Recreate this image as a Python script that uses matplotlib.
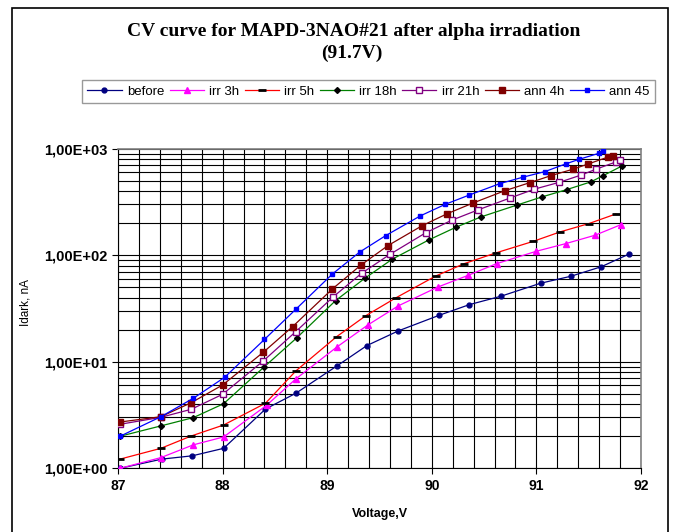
import numpy as np
import matplotlib
matplotlib.use('Agg')
import matplotlib.pyplot as plt
from matplotlib.ticker import FixedLocator, FuncFormatter, LogLocator, NullFormatter
from matplotlib.patches import Rectangle

# 1. data
v_before = [87.02, 87.42, 87.71, 88.01, 88.41, 88.70, 89.09, 89.38, 89.68, 90.07, 90.36, 90.66, 91.04, 91.33, 91.62, 91.89]
i_before = [1.0, 1.22, 1.31, 1.54, 3.6, 5.06, 9.1, 14.2, 19.5, 27.3, 34.4, 41.2, 54.6, 63.5, 78.0, 103.0]

v_irr3 = [87.02, 87.41, 87.72, 88.01, 88.42, 88.70, 89.09, 89.39, 89.68, 90.06, 90.35, 90.62, 91.00, 91.28, 91.56, 91.81]
i_irr3 = [1.0, 1.26, 1.66, 1.97, 3.9, 6.9, 13.7, 22.2, 33.5, 50.4, 64.9, 83.4, 109.0, 128.5, 154.0, 194.0]

v_irr5 = [87.02, 87.41, 87.70, 88.01, 88.41, 88.70, 89.09, 89.37, 89.66, 90.04, 90.31, 90.61, 90.97, 91.23, 91.50, 91.76]
i_irr5 = [1.22, 1.54, 2.01, 2.55, 4.08, 8.2, 17.2, 27.1, 40.0, 64.0, 83.4, 105.0, 135.0, 166.0, 198.0, 244.0]

v_irr18 = [87.02, 87.41, 87.72, 88.01, 88.40, 88.71, 89.08, 89.36, 89.62, 89.97, 90.23, 90.47, 90.81, 91.05, 91.29, 91.52, 91.64, 91.82]
i_irr18 = [2.0, 2.5, 2.99, 4.04, 9.0, 16.8, 37.5, 60.8, 91.6, 139.0, 183.0, 229.0, 295.0, 352.0, 413.0, 488.0, 560.0, 690.0]

v_irr21 = [87.02, 87.41, 87.70, 88.00, 88.39, 88.70, 89.06, 89.33, 89.60, 89.94, 90.19, 90.44, 90.75, 90.98, 91.22, 91.43, 91.57, 91.76, 91.80]
i_irr21 = [2.59, 3.01, 3.58, 4.95, 10.2, 19.2, 40.9, 67.8, 102.0, 162.0, 213.0, 266.0, 345.0, 417.0, 484.0, 567.0, 642.0, 751.0, 785.0]

v_ann4 = [87.02, 87.41, 87.70, 88.00, 88.39, 88.67, 89.05, 89.32, 89.58, 89.91, 90.15, 90.39, 90.70, 90.94, 91.14, 91.35, 91.49, 91.68, 91.73]
i_ann4 = [2.72, 3.05, 4.13, 6.05, 12.3, 21.4, 48.3, 80.5, 123.0, 190.0, 246.0, 308.0, 404.0, 481.0, 559.0, 642.0, 716.0, 832.0, 861.0]

v_ann45 = [87.02, 87.41, 87.72, 88.02, 88.40, 88.70, 89.05, 89.31, 89.56, 89.89, 90.13, 90.36, 90.65, 90.87, 91.08, 91.28, 91.41, 91.60, 91.64]
i_ann45 = [2.0, 3.05, 4.54, 7.15, 16.2, 31.1, 66.7, 107.0, 153.0, 234.0, 301.0, 368.0, 470.0, 540.0, 609.0, 720.0, 796.0, 907.0, 960.0]

x_ticks = [87, 88, 89, 90, 91, 92]
y_ticks = [1, 10, 100, 1000]

# 2. figure
fig = plt.figure(figsize=(6.77, 5.32), dpi=100)
ax = fig.add_axes([118 / 677, 1 - 468.3 / 532, 523 / 677, 319.6 / 532])

fig.patches.append(Rectangle((12 / 677, -0.01), 656 / 677, 1 - 8 / 532 + 0.01,
                             transform=fig.transFigure, fill=False, edgecolor='black', lw=1.2))

series = [
    (v_before, i_before, 'before', dict(color='#000080', marker='o', ms=3.5, mfc='#000080', mec='#000080')),
    (v_irr3, i_irr3, 'irr 3h', dict(color='#FF00FF', marker='^', ms=4.5, mfc='#FF00FF', mec='#FF00FF')),
    (v_irr5, i_irr5, 'irr 5h', dict(color='#FF0000', marker='_', ms=6, mew=2, mfc='black', mec='black')),
    (v_irr18, i_irr18, 'irr 18h', dict(color='#008000', marker='D', ms=3, mfc='black', mec='black')),
    (v_irr21, i_irr21, 'irr 21h', dict(color='#800080', marker='s', ms=4, mfc='white', mec='#800080')),
    (v_ann4, i_ann4, 'ann 4h', dict(color='#800000', marker='s', ms=4, mfc='#800000', mec='#800000')),
    (v_ann45, i_ann45, 'ann 45', dict(color='#0000FF', marker='s', ms=2.2, mfc='#0000FF', mec='#0000FF')),
]
for v, i, name, style in series:
    ax.plot(v, i, lw=0.9, label=name, zorder=3, **style)

ax.set_yscale('log')
ax.set_xlim(87, 92)
ax.set_ylim(1, 1000)

ax.xaxis.set_major_locator(FixedLocator(x_ticks))
ax.xaxis.set_minor_locator(FixedLocator(np.arange(87, 92.01, 0.2)))
ax.yaxis.set_major_locator(FixedLocator(y_ticks))
ax.yaxis.set_minor_locator(LogLocator(base=10, subs=np.arange(2, 10)))
ax.yaxis.set_minor_formatter(NullFormatter())
ax.yaxis.set_major_formatter(FuncFormatter(lambda val, pos: f"{val:.2E}".replace('.', ',')))

ax.grid(True, which='both', color='black', lw=0.8)
ax.set_axisbelow(True)
ax.tick_params(axis='both', which='major', direction='out', length=4, width=0.8, labelsize=10)
ax.tick_params(axis='y', which='major', labelsize=10.5)
ax.tick_params(axis='both', which='minor', length=0)
for lab in ax.get_xticklabels() + ax.get_yticklabels():
    lab.set_fontfamily('Liberation Sans')
    lab.set_fontweight('bold')
for side in ['top', 'right']:
    ax.spines[side].set_color('#808080')
    ax.spines[side].set_linewidth(1.2)

ax.set_xlabel('Voltage,V', fontsize=9, fontweight='bold', family='Liberation Sans', labelpad=11)
fig.text(25 / 677, 1 - 303 / 532, 'Idark, nA', rotation=90, fontsize=8.5,
         family='Liberation Sans', ha='center', va='center')

fig.text(354 / 677, 1 - 32 / 532, 'CV curve for MAPD-3NAO#21 after alpha irradiation',
         fontsize=14, fontweight='bold', family='Liberation Serif', ha='center', va='center')
fig.text(352 / 677, 1 - 53 / 532, '(91.7V)',
         fontsize=14, fontweight='bold', family='Liberation Serif', ha='center', va='center')

leg = fig.legend(loc='center', ncol=7, mode='expand',
                 bbox_to_anchor=(82 / 677, 1 - 108 / 532, 573 / 677, 33 / 532),
                 prop={'family': 'Liberation Sans', 'size': 9.5}, handlelength=2.6,
                 handletextpad=0.4, columnspacing=0.6, frameon=True, fancybox=False,
                 borderaxespad=0)
leg.get_frame().set_edgecolor('#808080')
leg.get_frame().set_linewidth(1.0)

plt.savefig('out.png', dpi=100)
